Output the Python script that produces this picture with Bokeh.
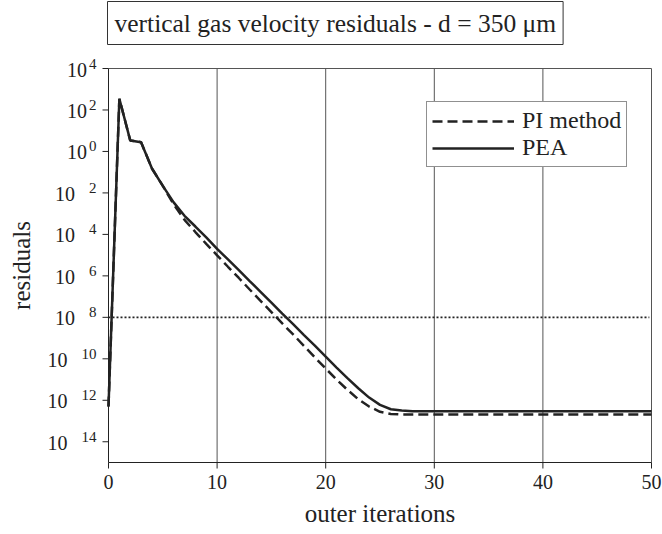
import math
from bokeh.plotting import figure
from bokeh.models import Legend, LegendItem, ColumnDataSource, Label
from bokeh.core.properties import value
from bokeh.embed import file_html
from bokeh.resources import INLINE

# data
iterations = list(range(0, 51))
pea = [5e-13, 3.5e2, 3.4e0, 2.8e0, 1.5e-1, 2.2e-2, 3.5e-3, 7.9e-4, 2.4e-4, 7.1e-5,
       2.0e-5, 6.2e-6, 1.9e-6, 5.6e-7, 1.7e-7, 5.1e-8, 1.5e-8, 4.7e-9, 1.4e-9, 4.3e-10,
       1.26e-10, 3.8e-11, 1.17e-11, 3.8e-12, 1.35e-12, 6.0e-13, 3.7e-13, 3.2e-13] + [3.0e-13] * 23
pi_method = [5e-13, 3.5e2, 3.4e0, 2.8e0, 1.5e-1, 2.2e-2, 2.8e-3, 5.0e-4, 1.3e-4, 3.5e-5,
             9.8e-6, 2.75e-6, 7.9e-7, 2.2e-7, 6.3e-8, 1.8e-8, 5.1e-9, 1.5e-9, 4.2e-10, 1.17e-10,
             3.4e-11, 1.0e-11, 3.2e-12, 1.12e-12, 5.0e-13, 2.8e-13, 2.2e-13, 2.05e-13] + [2.05e-13] * 23
threshold_x = [0, 49.8]
threshold_y = [1e-8, 1e-8]
y_ticks = [1e4, 1e2, 1e0, 1e-2, 1e-4, 1e-6, 1e-8, 1e-10, 1e-12, 1e-14]
y_tick_base = ["10"] * 10
y_tick_exp = ["4", "2", "0", "2", "4", "6", "8", "10", "12", "14"]
y_tick_negative = [False, False, False, True, True, True, True, True, True, True]
x_ticks = [0, 10, 20, 30, 40, 50]
x_tick_labels = ["0", "10", "20", "30", "40", "50"]
x_grid = [10, 20, 30, 40]
title_text = "vertical gas velocity residuals - d = 350 \u03bcm"
x_label = "outer iterations"
y_label = "residuals"
series_labels = ["PI method", "PEA"]

X_MIN, X_MAX = 0, 50
Y_MIN, Y_MAX = 1e-15, 1e4

FONT = "Liberation Serif"
INK = "#222222"

# layout (pixels): the plot box inside the canvas
W, H = 662, 534
LEFT, RIGHT, TOP, BOTTOM = 108, 11, 68, 72
plot_w = W - LEFT - RIGHT
plot_h = H - TOP - BOTTOM
# the frame covers the whole canvas, so every text can be drawn inside it
x_lo = X_MIN - (X_MAX - X_MIN) * LEFT / plot_w
x_hi = X_MAX + (X_MAX - X_MIN) * RIGHT / plot_w
ly0, ly1 = math.log10(Y_MIN), math.log10(Y_MAX)
y_lo = 10 ** (ly0 - (ly1 - ly0) * BOTTOM / plot_h)
y_hi = 10 ** (ly1 + (ly1 - ly0) * TOP / plot_h)

p = figure(width=W, height=H, output_backend="svg", toolbar_location=None,
           y_axis_type="log", x_axis_location=None, y_axis_location=None,
           x_range=(x_lo, x_hi), y_range=(y_lo, y_hi), min_border=0)
p.background_fill_color = "white"
p.border_fill_color = "white"
p.outline_line_color = None
p.xgrid.grid_line_color = None
p.ygrid.grid_line_color = None

# vertical grid lines, top and right border
p.segment(x0=x_grid, y0=[Y_MIN] * len(x_grid), x1=x_grid, y1=[Y_MAX] * len(x_grid),
          line_color="#555555", line_width=1)
p.line([X_MIN, X_MAX, X_MAX], [Y_MAX, Y_MAX, Y_MIN], line_color="#555555", line_width=1)

# axes lines
p.line([X_MIN, X_MIN, X_MAX], [Y_MAX, Y_MIN, Y_MIN], line_color=INK, line_width=1)

# x ticks and labels
p.ray(x=x_ticks, y=[Y_MIN] * len(x_ticks), length=6, length_units="screen",
      angle=-math.pi / 2, line_color=INK, line_width=1)
p.text(x=x_ticks, y=[Y_MIN] * len(x_ticks), text=x_tick_labels, y_offset=12,
       text_align="center", text_baseline="top", text_font=value(FONT),
       text_font_size="20px", text_color=INK)
p.text(x=[(X_MIN + X_MAX) / 2], y=[Y_MIN], text=[x_label], y_offset=37,
       text_align="center", text_baseline="top", text_font=value(FONT),
       text_font_size="25px", text_color=INK)

# y ticks and labels: "10" + exponent
p.ray(x=[X_MIN] * len(y_ticks), y=y_ticks, length=6, length_units="screen",
      angle=math.pi, line_color=INK, line_width=1)
EXP_RIGHT = -12
base_off = [EXP_RIGHT - 7.5 * len(e) - (14 if neg else 2) for e, neg in zip(y_tick_exp, y_tick_negative)]
src = ColumnDataSource(dict(x=[X_MIN] * len(y_ticks), y=y_ticks, base=y_tick_base,
                            exp=y_tick_exp, base_off=base_off))
p.text(x="x", y="y", text="base", source=src, x_offset="base_off", y_offset=1,
       text_align="right", text_baseline="middle", text_font=value(FONT),
       text_font_size="20px", text_color=INK)
p.text(x="x", y="y", text="exp", source=src, x_offset=EXP_RIGHT, y_offset=-5,
       text_align="right", text_baseline="middle", text_font=value(FONT),
       text_font_size="15px", text_color=INK)
p.text(x=[X_MIN], y=[math.sqrt(Y_MIN * Y_MAX)], text=[y_label], x_offset=-87,
       angle=math.pi / 2, text_align="center", text_baseline="middle",
       text_font=value(FONT), text_font_size="25px", text_color=INK)

# title in a box
title = Label(x=X_MIN, y=Y_MAX, x_offset=-1, y_offset=24, text=title_text,
              anchor="bottom_left", text_font=FONT, text_font_size="25.5px",
              text_color=INK, border_line_color="#333333", border_line_width=1,
              background_fill_color="white", padding=7)
p.add_layout(title)

# data lines
p.line(threshold_x, threshold_y, line_color=INK, line_width=1.6, line_dash="2 2")
r_pi = p.line(iterations, pi_method, line_color=INK, line_width=2.5, line_dash="10 5")
r_pea = p.line(iterations, pea, line_color=INK, line_width=2.5)

legend = Legend(items=[LegendItem(label=series_labels[0], renderers=[r_pi]),
                       LegendItem(label=series_labels[1], renderers=[r_pea])],
                location=(426, H - 167))
legend.label_text_font = FONT
legend.label_text_font_size = "24px"
legend.label_text_color = INK
legend.glyph_width = 82
legend.glyph_height = 20
legend.spacing = 0
legend.padding = 5
legend.margin = 0
legend.label_standoff = 8
legend.border_line_color = INK
legend.border_line_width = 1
legend.background_fill_alpha = 1
p.add_layout(legend, "center")

open("out.html", "w").write(file_html(p, INLINE))
